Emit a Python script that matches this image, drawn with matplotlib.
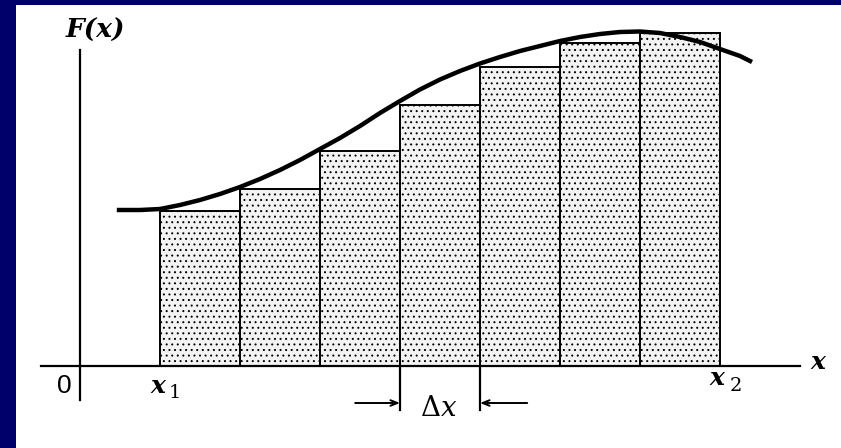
import matplotlib

matplotlib.use("Agg")
import matplotlib.pyplot as plt
from matplotlib.patches import Rectangle

# Riemann sum sketch: data units (x in steps of dx, y arbitrary)
bar_left = [1, 2, 3, 4, 5, 6, 7]
bar_height = [1.55, 1.77, 2.15, 2.61, 2.99, 3.23, 3.33]

curve_x = [0.46, 0.75, 1.00, 1.25, 1.50, 1.75, 2.00, 2.25, 2.50, 2.75,
           3.00, 3.25, 3.50, 3.75, 4.00, 4.25, 4.50, 4.75, 5.00, 5.25,
           5.50, 5.75, 6.00, 6.25, 6.50, 6.75, 7.00, 7.25, 7.50, 7.75,
           8.00, 8.25, 8.40]
curve_y = [1.56, 1.56, 1.57, 1.61, 1.66, 1.72, 1.79, 1.87, 1.96, 2.06,
           2.17, 2.28, 2.40, 2.53, 2.65, 2.765, 2.865, 2.95, 3.025, 3.09,
           3.15, 3.20, 3.25, 3.29, 3.32, 3.34, 3.345, 3.33, 3.29, 3.24,
           3.17, 3.10, 3.04]

x_axis_span = [-0.49, 9.0]
y_axis_span = [-0.34, 3.16]
dx_marks = [4, 5]

NAVY = "#00006a"

plt.rcParams["hatch.color"] = "#a8a8a8"
plt.rcParams["hatch.linewidth"] = 0.7
plt.rcParams["mathtext.fontset"] = "dejavuserif"

fig = plt.figure(figsize=(8.41, 4.48), dpi=100)
ax = fig.add_axes([0, 0, 1, 1])
ax.set_xlim(-1.0, 9.5125)
ax.set_ylim(-0.82, 3.66)
ax.axis("off")

ax.bar(bar_left, bar_height, width=1, align="edge", facecolor="#f3f3f3",
       edgecolor="black", linewidth=1.4, hatch="...", zorder=2)

ax.plot(curve_x, curve_y, color="black", lw=3.2, solid_capstyle="butt",
        solid_joinstyle="round", zorder=3)

# axes
ax.plot(x_axis_span, [0, 0], color="black", lw=1.6, zorder=4)
ax.plot([0, 0], y_axis_span, color="black", lw=1.6, zorder=4)

# dx markers
for xm in dx_marks:
    ax.plot([xm, xm], [-0.02, -0.44], color="black", lw=1.6, zorder=4)
arrow = dict(arrowstyle="->,head_length=0.5,head_width=0.2",
             color="black", lw=1.4, shrinkA=0, shrinkB=0)
ax.annotate("", xy=(dx_marks[0], -0.37), xytext=(dx_marks[0] - 0.56, -0.37),
            arrowprops=arrow)
ax.annotate("", xy=(dx_marks[1], -0.37), xytext=(dx_marks[1] + 0.59, -0.37),
            arrowprops=arrow)

bi = dict(family="DejaVu Serif", weight="bold", style="italic")
ax.text(0.19, 3.36, "F(x)", fontsize=19, ha="center", va="center", **bi)
ax.text(9.22, 0.04, "x", fontsize=18, ha="center", va="center", **bi)
ax.text(0.97, -0.20, "x", fontsize=18, ha="center", va="center", **bi)
ax.text(1.19, -0.27, "1", fontsize=14, ha="center", va="center",
        family="DejaVu Serif")
ax.text(7.96, -0.12, "x", fontsize=18, ha="center", va="center", **bi)
ax.text(8.20, -0.20, "2", fontsize=14, ha="center", va="center",
        family="DejaVu Serif")
ax.text(-0.19, -0.20, "0", fontsize=19, ha="center", va="center",
        family="Liberation Sans")
ax.text(4.48, -0.42, r"$\Delta x$", fontsize=20, ha="center", va="center")

# slide frame
fig.add_artist(Rectangle((0, 0), 16 / 841, 1, transform=fig.transFigure,
                         facecolor=NAVY, edgecolor="none", zorder=10))
fig.add_artist(Rectangle((0, 1 - 5 / 448), 1, 5 / 448,
                         transform=fig.transFigure,
                         facecolor=NAVY, edgecolor="none", zorder=10))

fig.savefig("out.png", dpi=100)
